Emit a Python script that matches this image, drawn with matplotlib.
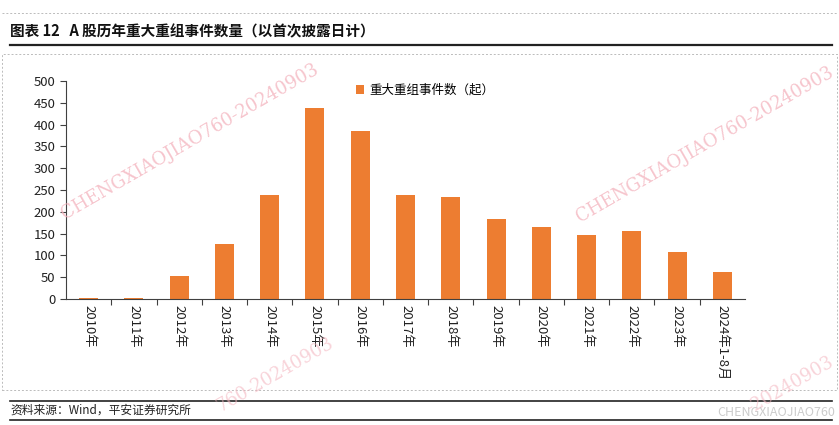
import matplotlib.pyplot as plt
from matplotlib.lines import Line2D
from matplotlib.patches import Rectangle

plt.rcParams['font.family'] = ['Noto Sans CJK SC', 'DejaVu Sans']

years = ["2010年", "2011年", "2012年", "2013年", "2014年", "2015年", "2016年", "2017年",
         "2018年", "2019年", "2020年", "2021年", "2022年", "2023年", "2024年1-8月"]
events = [3, 3, 53, 127, 239, 439, 386, 239, 235, 183, 166, 146, 156, 107, 61]
yticks = [0, 50, 100, 150, 200, 250, 300, 350, 400, 450, 500]

orange = "#ED7D31"

fig = plt.figure(figsize=(8.39, 4.25), dpi=100)
ax = fig.add_axes([66 / 839, 1 - 299 / 425, (745 - 66) / 839, (299 - 81) / 425])

x = list(range(len(years)))
ax.bar(x, events, width=0.42, color=orange, label="重大重组事件数（起）", zorder=2)
ax.set_xlim(-0.5, len(years) - 0.5)
ax.set_ylim(0, 500)
ax.set_yticks(yticks)
ax.tick_params(axis="y", labelsize=9.5, length=4, color="#404040", labelcolor="#222222")

# tick marks between categories, labels under each bar
ax.set_xticks([i + 0.5 for i in range(len(years) - 1)])
ax.set_xticklabels([])
ax.tick_params(axis="x", length=4, direction="out", color="#404040")
for i, y in enumerate(years):
    ax.text(i, -14, y, rotation=270, ha="center", va="top", fontsize=9.5, color="#222222")

for s in ["top", "right"]:
    ax.spines[s].set_visible(False)
ax.spines["left"].set_color("#404040")
ax.spines["bottom"].set_color("#404040")

ax.legend(loc="upper left", bbox_to_anchor=(0.41, 1.04), frameon=False,
          fontsize=9, handlelength=0.7, handleheight=0.7, handletextpad=0.4)

# title and frame
fig.text(10 / 839, 1 - 31 / 425, "图表 12   A 股历年重大重组事件数量（以首次披露日计）",
         fontsize=10.5, fontweight="bold", va="center", color="#111111")
fig.add_artist(Line2D([10 / 839, 832 / 839], [1 - 45 / 425] * 2, color="#222222", lw=1.6))
fig.add_artist(Rectangle((2 / 839, 1 - 390 / 425), 835 / 839, (390 - 54) / 425, fill=False,
                         ls=(0, (2, 2)), lw=0.7, ec="#bbbbbb"))
fig.add_artist(Line2D([2 / 839, 837 / 839], [1 - 13 / 425] * 2, color="#bbbbbb", lw=0.7,
                      ls=(0, (2, 2))))
fig.add_artist(Line2D([10 / 839, 832 / 839], [1 - 401 / 425] * 2, color="#222222", lw=1.2))
fig.add_artist(Line2D([10 / 839, 832 / 839], [1 - 420 / 425] * 2, color="#222222", lw=1.2))
fig.text(10 / 839, 1 - 410 / 425, "资料来源：Wind，平安证券研究所", fontsize=8.5,
         style="italic", va="center", color="#222222")

# watermarks
wm = "CHENGXIAOJIAO760-20240903"
wm_style = dict(rotation=30, color="#f4b6c0", ha="center", va="center", family="DejaVu Serif")
fig.text(190 / 839, 1 - 142 / 425, wm, fontsize=13, alpha=0.8, **wm_style)
fig.text(705 / 839, 1 - 145 / 425, wm, fontsize=13, alpha=0.8, **wm_style)
fig.text(275 / 839, 1 - 375 / 425, "760-20240903", fontsize=13, alpha=0.6, **wm_style)
fig.text(790 / 839, 1 - 385 / 425, "-20240903", fontsize=13, alpha=0.6, **wm_style)
fig.text(0.995, 1 - 412 / 425, "CHENGXIAOJIAO760", fontsize=9, color="#cccccc",
         ha="right", va="center")

fig.savefig("out.png", dpi=100)
